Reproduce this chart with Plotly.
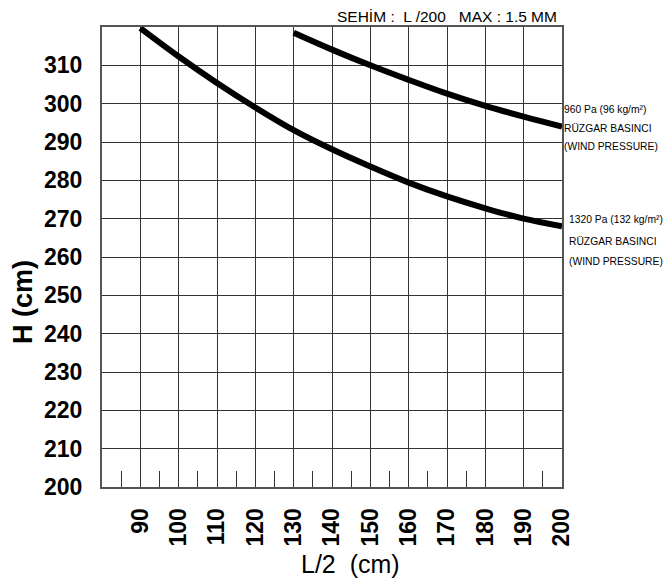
import plotly.graph_objects as go

# Data
x_1320 = [90, 100, 110, 120, 130, 140, 150, 160, 170, 180, 190, 200]
h_1320 = [319.7, 312.3, 305.4, 299.0, 293.1, 288.1, 283.6, 279.4, 275.8, 272.7, 270.0, 268.0]

x_960 = [130, 140, 150, 160, 170, 180, 190, 200]
h_960 = [318.5, 314.1, 310.0, 306.2, 302.6, 299.4, 296.6, 294.0]

x_ticks = [90, 100, 110, 120, 130, 140, 150, 160, 170, 180, 190, 200]
y_ticks = [200, 210, 220, 230, 240, 250, 260, 270, 280, 290, 300, 310]
x_minor = [85, 95, 105, 115, 125, 135, 145, 155, 165, 175, 195]

label_960 = ["960 Pa (96 kg/m²)", "RÜZGAR BASINCI", "(WIND PRESSURE)"]
label_1320 = ["1320 Pa (132 kg/m²)", "RÜZGAR BASINCI", "(WIND PRESSURE)"]

SANS = "Liberation Sans, Arial, sans-serif"

fig = go.Figure()
for xs, ys in [(x_960, h_960), (x_1320, h_1320)]:
    fig.add_trace(go.Scatter(x=xs, y=ys, mode="lines",
                             line=dict(color="black", width=6, shape="spline", smoothing=1),
                             showlegend=False, hoverinfo="skip"))

# the page body adds an 8px offset, so the figure is sized/placed to compensate
fig.update_layout(
    width=656, height=570,
    margin=dict(l=94, r=102, t=19, b=91),
    paper_bgcolor="white", plot_bgcolor="white",
    font=dict(family=SANS, color="black"),
    showlegend=False,
)

# pad 2-digit labels with a figure space so rotated labels align at both ends
x_text = [("\u2007" + str(v)) if v < 100 else str(v) for v in x_ticks]

fig.update_xaxes(
    range=[80, 200], tickvals=x_ticks, ticktext=x_text,
    tickangle=-90, tickfont=dict(family=SANS, size=23, weight="bold"),
    ticks="", ticklabelstandoff=10, automargin=False,
    showgrid=True, gridcolor="#333", gridwidth=1,
    showline=True, linecolor="#555", linewidth=2, mirror=True,
    zeroline=False,
    minor=dict(tickmode="array", tickvals=x_minor, ticks="inside", ticklen=16,
               tickcolor="#333", tickwidth=1, showgrid=False),
)
fig.update_yaxes(
    range=[200, 320], tickvals=y_ticks, ticktext=[str(v) for v in y_ticks],
    tickfont=dict(family=SANS, size=23, weight="bold"),
    ticks="", ticklabelstandoff=13, automargin=False,
    showgrid=True, gridcolor="#333", gridwidth=1,
    showline=True, linecolor="#555", linewidth=2, mirror=True,
    zeroline=False,
)

# axis titles
fig.add_annotation(text="H (cm)", xref="paper", yref="paper", x=-0.1717, y=0.402,
                   xanchor="center", yanchor="middle", textangle=-90, showarrow=False,
                   font=dict(family=SANS, size=27, weight="bold"))
fig.add_annotation(text="L/2\u00a0\u00a0(cm)", xref="paper", yref="paper", x=0.541, y=-0.168,
                   xanchor="center", yanchor="middle", showarrow=False,
                   font=dict(family=SANS, size=25))
# top note
fig.add_annotation(text="SEHİM :\u00a0\u00a0L /200\u00a0\u00a0\u00a0MAX : 1.5 MM", xref="paper", yref="paper",
                   x=0.9935, y=1.0, xanchor="right", yanchor="bottom", showarrow=False,
                   font=dict(family=SANS, size=15.5))

# right labels
for i, t in enumerate(label_960):
    fig.add_annotation(text=t, xref="paper", yref="y", x=1.0, y=[298.6, 293.6, 288.9][i],
                       xanchor="left", yanchor="middle", showarrow=False,
                       font=dict(family=SANS, size=10.3))
for i, t in enumerate(label_1320):
    fig.add_annotation(text=t, xref="paper", yref="y", x=1.01, y=[269.7, 264.0, 258.9][i],
                       xanchor="left", yanchor="middle", showarrow=False,
                       font=dict(family=SANS, size=10.3))

fig.write_html("out.html")
